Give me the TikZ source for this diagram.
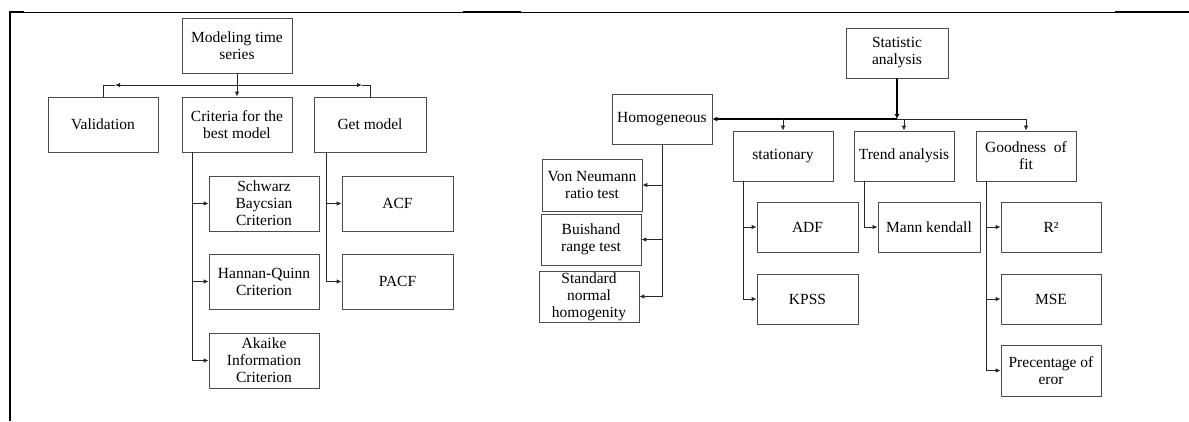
\documentclass[tikz,border=0pt]{standalone}
\usepackage{fontspec}
\setmainfont{Liberation Serif}
\usetikzlibrary{arrows.meta}
\begin{document}
\begin{tikzpicture}[x=1pt,y=-1pt,
 box/.style={draw=black!70, line width=0.8pt, align=center, inner sep=1pt, font=\fontsize{15.5}{17}\selectfont},
 ln/.style={draw=black!85, line width=0.8pt},
 arr/.style={ln, -{Latex[length=5pt,width=4.5pt]}},
 thk/.style={draw=black, line width=1.8pt},
 thkarr/.style={thk, -{Latex[length=5pt,width=5pt]}},
]
\useasboundingbox (0,0) rectangle (1189,421);
% frame
\draw[black, line width=1pt] (10,12) -- (1189,12);
\draw[black, line width=2pt] (10,11) -- (10,421);
\draw[black, line width=2pt] (10,12) -- (24,12);
\draw[black, line width=2pt] (463,12) -- (521,12);
\draw[black, line width=2pt] (1115,12) -- (1189,12);

% ---------- left tree ----------
\node[box, minimum width=110pt, minimum height=55pt] (root) at (237,45.5) {Modeling time\\series};
\node[box, minimum width=110pt, minimum height=55pt] (val) at (103,124.5) {Validation};
\node[box, minimum width=110pt, minimum height=55pt] (crit) at (237,124.5) {Criteria for the\\best model};
\node[box, minimum width=112pt, minimum height=55pt] (get) at (370,124.5) {Get model};
\node[box, minimum width=110pt, minimum height=55pt] (sbc) at (264,203.5) {Schwarz\\Baycsian\\Criterion};
\node[box, minimum width=110pt, minimum height=55pt] (hqc) at (264,281.5) {Hannan-Quinn\\Criterion};
\node[box, minimum width=110pt, minimum height=55pt] (aic) at (264,360.5) {Akaike\\Information\\Criterion};
\node[box, minimum width=111pt, minimum height=55pt] (acf) at (397.5,203.5) {ACF};
\node[box, minimum width=111pt, minimum height=55pt] (pacf) at (397.5,281.5) {PACF};

\coordinate (j1) at (237,85);
\coordinate (vl) at (115,85);
\coordinate (gr) at (362,85);
\draw[arr] (root.south) -- (crit.north);
\draw[arr] (j1) -- (vl);
\draw[ln] (vl) -| (val.north);
\draw[arr] (j1) -- (gr);
\draw[ln] (gr) -| (get.north);

\coordinate (cb) at (192,152);
\coordinate (cbe) at (192,360.5);
\draw[ln] (cb) -- (cbe);
\draw[arr] (sbc.west -| cb) -- (sbc.west);
\draw[arr] (hqc.west -| cb) -- (hqc.west);
\draw[arr] (cbe) -- (aic.west);

\coordinate (gb) at (326,152);
\coordinate (gbe) at (326,281.5);
\draw[ln] (gb) -- (gbe);
\draw[arr] (acf.west -| gb) -- (acf.west);
\draw[arr] (gbe) -- (pacf.west);

% ---------- right tree ----------
\node[box, minimum width=102pt, minimum height=50pt] (stat) at (897,53) {Statistic\\analysis};
\node[box, minimum width=100pt, minimum height=50pt] (hom) at (662,119) {Homogeneous};
\node[box, minimum width=100pt, minimum height=50pt] (sta) at (783,156) {stationary};
\node[box, minimum width=100pt, minimum height=50pt] (trd) at (904,156) {Trend analysis};
\node[box, minimum width=100pt, minimum height=50pt] (gof) at (1026,156) {Goodness\ \ of\\fit};
\node[box, minimum width=100pt, minimum height=52pt] (vn) at (592,185) {Von Neumann\\ratio test};
\node[box, minimum width=100pt, minimum height=51pt] (bui) at (591,239.5) {Buishand\\range test};
\node[box, minimum width=100pt, minimum height=51pt] (snh) at (589,296.5) {Standard\\normal\\homogenity};
\node[box, minimum width=101pt, minimum height=50pt] (adf) at (807.5,227) {ADF};
\node[box, minimum width=101pt, minimum height=50pt] (kpss) at (807.5,299) {KPSS};
\node[box, minimum width=102pt, minimum height=50pt] (mk) at (929,227) {Mann kendall};
\node[box, minimum width=100pt, minimum height=50pt] (r2) at (1051,227) {R²};
\node[box, minimum width=100pt, minimum height=50pt] (mse) at (1051,299) {MSE};
\node[box, minimum width=100pt, minimum height=51pt] (pe) at (1051,370.5) {Precentage of\\eror};

\coordinate (j2) at (897,119);
\coordinate (gtop) at (1026,119);
\draw[thkarr] (stat.south) -- (j2);
\draw[thkarr] (j2) -- (hom.east);
\draw[ln] (j2) -- (gtop);
\draw[arr] (sta.north |- j2) -- (sta.north);
\draw[arr] (trd.north |- j2) -- (trd.north);
\draw[arr] (gtop) -- (gof.north);

\coordinate (hb) at (662,144);
\coordinate (hbe) at (662,296.5);
\draw[ln] (hom.south) -- (hbe);
\draw[arr] (vn.east -| hb) -- (vn.east);
\draw[arr] (bui.east -| hb) -- (bui.east);
\draw[arr] (hbe) -- (snh.east);

\coordinate (sb) at (743,181);
\coordinate (sbe) at (743,299);
\draw[ln] (sb) -- (sbe);
\draw[arr] (adf.west -| sb) -- (adf.west);
\draw[arr] (sbe) -- (kpss.west);

\coordinate (tb) at (864,181);
\coordinate (tbe) at (864,227);
\draw[ln] (tb) -- (tbe);
\draw[arr] (tbe) -- (mk.west);

\coordinate (fb) at (986,181);
\coordinate (fbe) at (986,370.5);
\draw[ln] (fb) -- (fbe);
\draw[arr] (r2.west -| fb) -- (r2.west);
\draw[arr] (mse.west -| fb) -- (mse.west);
\draw[arr] (fbe) -- (pe.west);
\end{tikzpicture}
\end{document}
